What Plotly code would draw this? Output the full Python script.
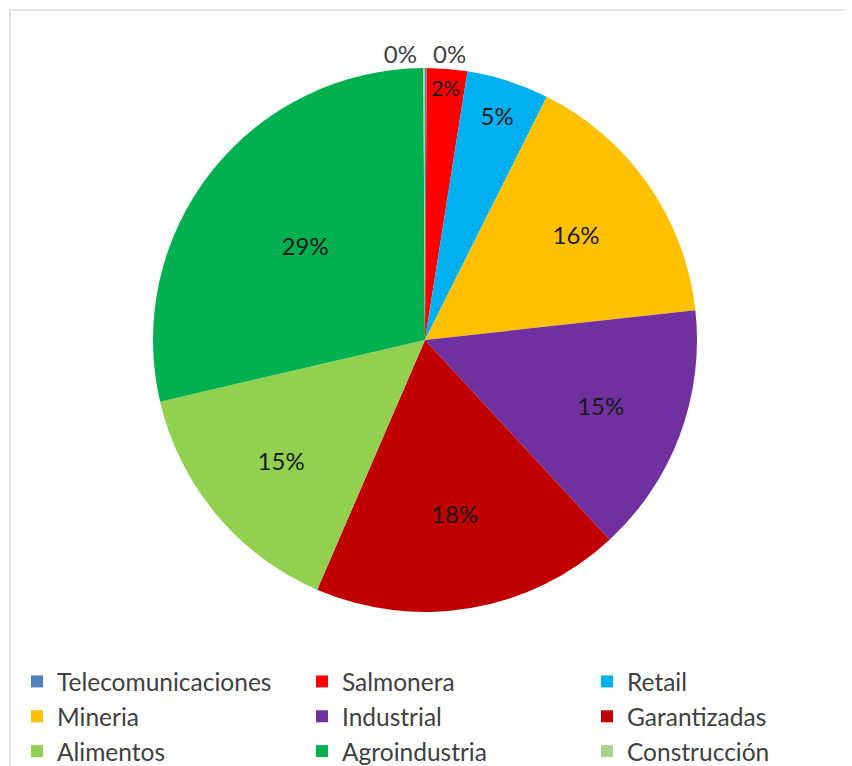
import plotly.graph_objects as go

categories = ["Telecomunicaciones", "Salmonera", "Retail", "Mineria", "Industrial",
              "Garantizadas", "Alimentos", "Agroindustria", "Construcción"]
values = [0.1, 2.4, 4.9, 15.9, 14.9, 18.4, 14.9, 28.6, 0.1]
colors = ["#4F81BD", "#FF0000", "#00B0F0", "#FFC000", "#7030A0",
          "#C00000", "#92D050", "#00B050", "#A9D08E"]
text_positions = ["outside", "inside", "inside", "inside", "inside",
                  "inside", "inside", "inside", "outside"]

W, H = 852, 766
OFF = 8  # page body offset in the browser
fig = go.Figure(go.Pie(
    labels=categories,
    values=values,
    marker=dict(colors=colors, line=dict(width=0)),
    sort=False,
    direction="clockwise",
    rotation=0,
    texttemplate="%{percent:.0%}",
    textposition=text_positions,
    insidetextorientation="horizontal",
    textfont=dict(family="Lato", size=24, color="#1a1a1a"),
    outsidetextfont=dict(family="Lato", size=24, color="#404040"),
    domain=dict(x=[0, (2 * (425 - OFF)) / W],
                y=[(H - (612 - OFF)) / H, (H - (68 - OFF)) / H]),
    hoverinfo="label+percent",
))

fig.update_layout(
    width=W, height=H,
    margin=dict(l=0, r=0, t=0, b=0, autoexpand=False),
    paper_bgcolor="white",
    plot_bgcolor="white",
    font=dict(family="Lato", color="#404040"),
    legend=dict(
        orientation="h",
        x=9 / W, xanchor="left",
        y=(H - 651) / H, yanchor="top",
        font=dict(family="Lato", size=24.5, color="#404040"),
        entrywidth=240, entrywidthmode="pixels",
        tracegroupgap=0,
        itemclick=False,
    ),
    shapes=[dict(type="rect", xref="paper", yref="paper",
                 x0=(10 - OFF) / W, x1=1.02, y0=-0.02, y1=1 - (10 - OFF) / H,
                 line=dict(color="#D9D9D9", width=1.5))],
)

fig.write_html("out.html")
